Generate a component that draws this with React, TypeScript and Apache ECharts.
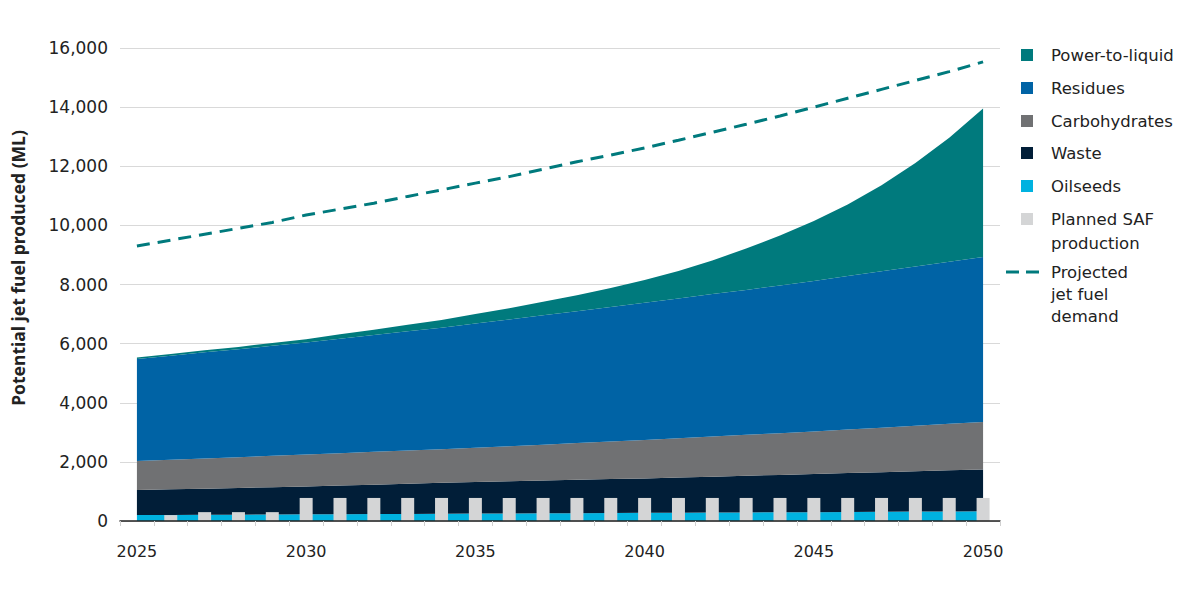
import React, { useEffect, useRef } from "react";
import * as echarts from "echarts";

const years = [
  "2025","2026","2027","2028","2029","2030","2031","2032","2033","2034",
  "2035","2036","2037","2038","2039","2040","2041","2042","2043","2044",
  "2045","2046","2047","2048","2049","2050",
];

const oilseeds = [200,205,210,215,220,225,230,235,240,245,250,255,260,265,270,275,280,285,290,295,300,305,310,318,325,330];
const waste = [850,865,885,905,925,945,970,995,1020,1045,1070,1090,1110,1130,1150,1165,1190,1215,1240,1265,1290,1315,1340,1365,1390,1410];
const carbohydrates = [980,1000,1020,1040,1060,1080,1095,1110,1125,1140,1160,1185,1210,1240,1270,1300,1330,1355,1385,1410,1440,1475,1505,1540,1575,1610];
const residues = [3450,3520,3590,3650,3720,3790,3870,3950,4030,4110,4200,4290,4380,4460,4550,4640,4730,4820,4900,5000,5090,5190,5290,5390,5480,5580];
const powerToLiquid = [50,60,70,80,100,110,150,180,220,260,320,380,460,540,640,770,930,1140,1400,1690,2030,2420,2910,3500,4190,5020];
const plannedSAF: (number | string)[] = ["-",200,300,300,300,780,780,780,780,780,780,780,780,780,780,780,780,780,780,780,780,780,780,780,780,780];
const demand = [9300,9500,9700,9900,10100,10350,10550,10750,10980,11200,11430,11650,11900,12150,12380,12620,12880,13150,13420,13700,14000,14300,14600,14900,15200,15530];

const yTickLabels = ["0","2,000","4,000","6,000","8.000","10,000","12,000","14,000","16,000"];

const C_PTL = "#007a7d";
const C_RES = "#0063a5";
const C_CARB = "#707173";
const C_WASTE = "#011e38";
const C_OIL = "#00b2e0";
const C_SAF = "#d4d5d6";
const C_DEMAND = "#007a7d";

const FONT = "DejaVu Sans";
const TXT = "#222222";

export default function App() {
  const ref = useRef<HTMLDivElement>(null);

  useEffect(() => {
    if (!ref.current) return;
    const chart = echarts.init(ref.current, null, { renderer: "svg" });

    const area = (name: string, data: number[], color: string) => ({
      name,
      type: "line",
      stack: "total",
      data,
      showSymbol: false,
      symbol: "none",
      lineStyle: { width: 0 },
      areaStyle: { color, opacity: 1 },
      itemStyle: { color },
      z: 2,
    });

    const legendItems = [
      { label: "Power-to-liquid", color: C_PTL, y: 55 },
      { label: "Residues", color: C_RES, y: 88 },
      { label: "Carbohydrates", color: C_CARB, y: 121 },
      { label: "Waste", color: C_WASTE, y: 153 },
      { label: "Oilseeds", color: C_OIL, y: 186 },
    ];

    const LFS = 16.5;
    const graphics: any[] = [];
    legendItems.forEach((it) => {
      graphics.push({
        type: "rect",
        shape: { x: 1021, y: it.y - 6, width: 12, height: 12 },
        style: { fill: it.color },
      });
      graphics.push({
        type: "text",
        x: 1051,
        y: it.y,
        style: { text: it.label, fontSize: LFS, fontFamily: FONT, fill: TXT, verticalAlign: "middle", align: "left" },
      });
    });
    graphics.push({
      type: "rect",
      shape: { x: 1021, y: 219 - 6, width: 12, height: 12 },
      style: { fill: C_SAF },
    });
    graphics.push({
      type: "text",
      x: 1051,
      y: 219 - 12,
      style: { text: "Planned SAF\nproduction", fontSize: LFS, fontFamily: FONT, fill: TXT, lineHeight: 24, verticalAlign: "top", align: "left" },
    });
    graphics.push({
      type: "line",
      shape: { x1: 1006, y1: 272, x2: 1039, y2: 272 },
      style: { stroke: C_DEMAND, lineWidth: 3, lineDash: [13, 7] },
    });
    graphics.push({
      type: "text",
      x: 1051,
      y: 272 - 11,
      style: { text: "Projected\njet fuel\ndemand", fontSize: LFS, fontFamily: FONT, fill: TXT, lineHeight: 22, verticalAlign: "top", align: "left" },
    });
    graphics.push({
      type: "text",
      x: 18,
      y: 268,
      rotation: Math.PI / 2,
      style: {
        text: "Potential jet fuel produced (ML)",
        fontSize: 17.5,
        fontWeight: "bold",
        fontFamily: "Noto Sans",
        fill: TXT,
        align: "center",
        verticalAlign: "middle",
      },
    });

    chart.setOption({
      animation: false,
      backgroundColor: "#ffffff",
      textStyle: { fontFamily: FONT },
      grid: { left: 120, right: 200, top: 48, bottom: 79, containLabel: false, outerBoundsMode: "none" },
      xAxis: {
        type: "category",
        data: years,
        boundaryGap: true,
        axisLine: { show: true, lineStyle: { color: "#222222", width: 1.5 } },
        axisTick: { show: true, interval: 0, length: 5, lineStyle: { color: "#d0d0d0" } },
        axisLabel: { interval: 4, margin: 22, fontSize: 16, color: TXT, fontFamily: FONT },
        splitLine: { show: false },
        z: 10,
      },
      yAxis: {
        type: "value",
        min: 0,
        max: 16000,
        interval: 2000,
        axisLine: { show: false },
        axisTick: { show: false },
        axisLabel: {
          margin: 12,
          fontSize: 17,
          color: TXT,
          fontFamily: FONT,
          formatter: (v: number) => yTickLabels[Math.round(v / 2000)] ?? String(v),
        },
        splitLine: { show: true, lineStyle: { color: "#d9d9d9", width: 1 } },
      },
      series: [
        area("Oilseeds", oilseeds, C_OIL),
        area("Waste", waste, C_WASTE),
        area("Carbohydrates", carbohydrates, C_CARB),
        area("Residues", residues, C_RES),
        area("Power-to-liquid", powerToLiquid, C_PTL),
        {
          name: "Planned SAF production",
          type: "bar",
          data: plannedSAF,
          barWidth: 13,
          itemStyle: { color: C_SAF },
          z: 5,
        },
        {
          name: "Projected jet fuel demand",
          type: "line",
          data: demand,
          showSymbol: false,
          symbol: "none",
          lineStyle: { color: C_DEMAND, width: 3, type: [13, 8] },
          itemStyle: { color: C_DEMAND },
          z: 6,
        },
      ],
      graphic: graphics,
    });

    return () => chart.dispose();
  }, []);

  return (
    <div
      ref={ref}
      style={{ position: "fixed", left: 0, top: 0, width: 1200, height: 600 }}
    />
  );
}
